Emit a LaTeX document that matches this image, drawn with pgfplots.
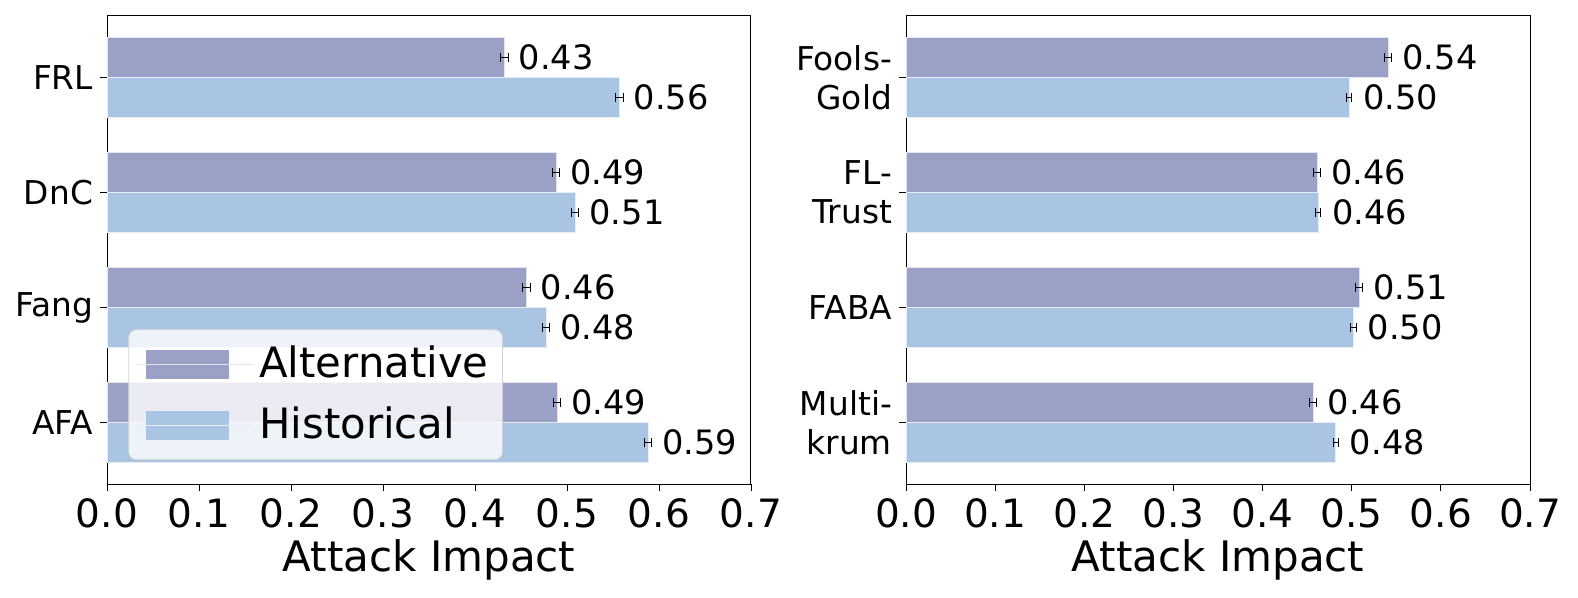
\documentclass[border=0pt]{standalone}
\usepackage{fontspec}
\setmainfont{DejaVu Sans}
\usepackage{pgfplots}
\pgfplotsset{compat=1.18}
\definecolor{altc}{HTML}{9BA1C6}
\definecolor{hisc}{HTML}{AAC4E3}

\pgfplotsset{
  panel/.style={
    anchor=south west,
    scale only axis,
    height=234pt,
    xbar,
    bar width=0.35,
    xmin=0, xmax=0.7,
    ymin=-0.535, ymax=3.535,
    y dir=reverse,
    ytick={0,1,2,3},
    xtick={0,0.1,...,0.7},
    tick align=outside,
    xtick pos=bottom, ytick pos=left,
    major tick length=3.5pt,
    tick style={black, line width=0.4pt},
    axis line style={black, line width=0.5pt},
    xticklabel style={font=\fontsize{19.5}{21}\selectfont, /pgf/number format/.cd, fixed, fixed zerofill, precision=1, assume math mode=true},
    yticklabel style={font=\fontsize{16.4}{19.5}\selectfont, align=right},
    xlabel={Attack Impact},
    xlabel style={font=\fontsize{21}{24}\selectfont, at={(axis description cs:0.5,0)}, anchor=base, yshift=-43.5pt},
    nodes near coords={\pgfmathprintnumber[fixed, fixed zerofill, precision=2, assume math mode=true]{\pgfplotspointmeta}},
    every node near coord/.append style={font=\fontsize{16.8}{19}\selectfont, anchor=west, inner sep=0pt, xshift=7pt, black},
    error bars/error bar style={black, line width=0.5pt},
    error bars/error mark options={black, line width=0.5pt, mark size=2.2pt, rotate=90},
  },
  altbar/.style={fill=altc, draw=white!70!altc, line width=0.3pt, bar shift=-0.175,
    error bars/.cd, x dir=both, x explicit},
  hisbar/.style={fill=hisc, draw=white!70!hisc, line width=0.3pt, bar shift=0.175,
    error bars/.cd, x dir=both, x explicit},
}

\begin{document}
\begin{tikzpicture}
\useasboundingbox (0,0) rectangle (789pt,299pt);
\begin{axis}[panel, at={(53.5pt,57pt)}, width=322pt,
    yticklabels={FRL,DnC,Fang,AFA},
    legend style={at={(0.033,0.051)}, anchor=south west, fill=white, fill opacity=0.8, text opacity=1,
      draw=black!18, rounded corners=4pt, font=\fontsize{20.9}{24}\selectfont,
      inner xsep=4pt, inner ysep=2pt, row sep=0pt,
      nodes={inner xsep=3pt, inner ysep=2pt, text height=20pt, text depth=6.5pt}},
    legend cell align=left,
    legend image code/.code={
      \fill[#1, draw=none, fill opacity=1, sharp corners] (4.5pt,-7.25pt) rectangle (46pt,7.25pt);
      \path (0pt,0pt) -- (58pt,0pt);},
  ]
\addplot[altbar] coordinates {
  (0.432,0) +- (0.004,0)
  (0.488,1) +- (0.004,0)
  (0.456,2) +- (0.004,0)
  (0.489,3) +- (0.004,0)
};
\addlegendentry{Alternative}
\addplot[hisbar] coordinates {
  (0.557,0) +- (0.004,0)
  (0.509,1) +- (0.004,0)
  (0.477,2) +- (0.004,0)
  (0.588,3) +- (0.004,0)
};
\addlegendentry{Historical}
\end{axis}

\begin{axis}[panel, at={(453pt,57pt)}, width=312pt,
    yticklabels={{Fools-\\Gold},{FL-\\Trust},FABA,{Multi-\\krum}},
  ]
\addplot[altbar] coordinates {
  (0.541,0) +- (0.004,0)
  (0.461,1) +- (0.004,0)
  (0.508,2) +- (0.004,0)
  (0.457,3) +- (0.004,0)
};
\addplot[hisbar] coordinates {
  (0.497,0) +- (0.003,0)
  (0.462,1) +- (0.003,0)
  (0.502,2) +- (0.003,0)
  (0.482,3) +- (0.003,0)
};
\end{axis}
\end{tikzpicture}
\end{document}
